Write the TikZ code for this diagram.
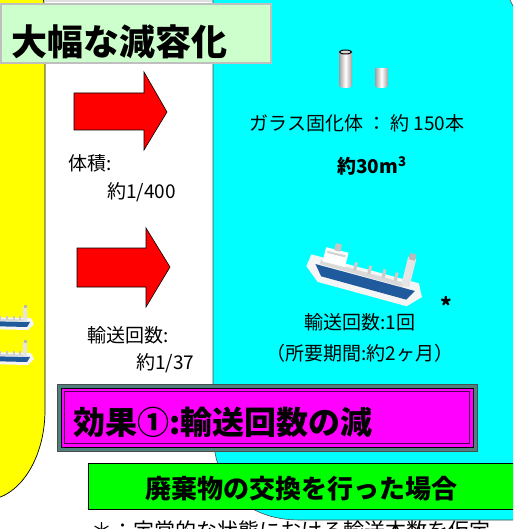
\documentclass[tikz,border=0pt]{standalone}
\usepackage{fontspec}
\newfontfamily\jp{Noto Sans CJK JP}

\definecolor{paleGreen}{HTML}{CCFFCC}
\definecolor{shipBlue}{HTML}{1E5A9C}
\definecolor{frameTeal}{HTML}{4F7F7F}
\definecolor{pureYellow}{HTML}{FFFF00}
\definecolor{pureCyan}{HTML}{00FFFF}
\definecolor{pureMagenta}{HTML}{FF00FF}
\definecolor{pureGreen}{HTML}{00FF00}
\definecolor{pureRed}{HTML}{FF0000}

\tikzset{
    txt/.style={inner sep=0pt, font={\jp\fontsize{19}{22}\selectfont}},
    bigtxt/.style={inner sep=0pt, font={\jp\bfseries\fontsize{#1}{#1}\selectfont}},
    arrowbox/.style={fill=pureRed, draw=black, line width=0.6},
    cyl/.style={left color=gray!75, right color=gray!75, middle color=white},
    ship/.pic={
        % spray round the hull
        \fill[white!92!gray] (-6,-6) -- (100,-4) -- (106,8) -- (94,20) -- (6,18) -- (-8,6) -- cycle;
        \fill[shipBlue] (0,2) -- (98,4) -- (92,14) -- (8,12) -- cycle;
        \fill[gray!30] (4,-3) -- (86,-1) -- (86,3) -- (4,1) -- cycle;
        % superstructure and cranes
        \fill[white] (6,-16) rectangle (28,-2);
        \fill[gray!35] (8,-13) rectangle (26,-11);
        \fill[gray!45] (14,-22) rectangle (20,-15);
        \foreach \cx in {36,50,64,76}
            \fill[gray!40] (\cx,-9) rectangle (\cx+3,-1);
        % bridge tower
        \fill[gray!20] (84,-26) rectangle (92,2);
        \fill[gray!55] (85,-30) rectangle (91,-24);
    }
}

\begin{document}
\begin{tikzpicture}[x=1pt,y=-1pt]

    \useasboundingbox (0,0) rectangle (513,529);
    \clip (0,0) rectangle (513,529);

    % background regions
    \fill[gray!25] (28,0) rectangle (218,2);
    \filldraw[fill=pureYellow, draw=black, line width=0.7] (-20,-40) -- (5,-40) .. controls (30,-40) and (45,-20) .. (45,20) -- (45,410) .. controls (45,460) and (18,500) .. (-15,500) -- cycle;
    \filldraw[fill=pureCyan, draw=gray!60!black, line width=0.6] (213,-20) -- (490,-20) .. controls (500,-15) and (506,-8) .. (510,0) .. controls (512,4) and (514,8) .. (520,20) -- (520,520) -- (300,520) .. controls (240,520) and (213,480) .. (213,430) -- cycle;

    % title
    \draw[fill=paleGreen, draw=frameTeal!70!black, double=gray!50, double distance=1.2pt, line width=0.8] (1,4) rectangle (271,63);
    \node[bigtxt=36, anchor=west] (title) at (11,42) {大幅な減容化};

    % arrows
    \draw[arrowbox] (74,93) -- (144,93) -- (144,72) -- (167,112) -- (144,150) -- (144,130) -- (74,130) -- cycle;
    \draw[arrowbox] (77,248) -- (146,248) -- (146,228) -- (170,267) -- (146,307) -- (146,287) -- (77,287) -- cycle;

    \node[txt, anchor=west] (volLabel) at (68,163) {体積:};
    \node[txt, anchor=west] (volRatio) at (107,192) {約1/400};
    \node[txt, anchor=west] (tripLabel) at (87,335) {輸送回数:};
    \node[txt, anchor=west] (tripRatio) at (136,363) {約1/37};

    % glass canisters
    \shade[cyl] (339,52) -- (339,86) arc[start angle=180, end angle=0, x radius=6.5, y radius=2] -- (352,52) -- cycle;
    \filldraw[fill=gray!30, draw=black, line width=1] (345.5,52) ellipse [x radius=6, y radius=2];
    \shade[cyl] (375,68) -- (375,86) arc[start angle=180, end angle=0, x radius=6.5, y radius=2] -- (388,68) -- cycle;

    \node[txt] (glassCount) at (357,123) {ガラス固化体 ： 約 150本};
    \node[bigtxt=19] (glassVol) at (372,166) {約30m\textsuperscript{3}};

    % ships
    \pic[rotate=-14, scale=1.05] at (316,262) {ship};
    \pic[scale=0.5] at (-19,320) {ship};
    \pic[scale=0.5] at (-19,355) {ship};

    \node[bigtxt=22] (star) at (446,306) {*};
    \node[txt] (tripOne) at (360,322) {輸送回数:1回};
    \node[txt] (period) at (360,353) {（所要期間:約2ヶ月）};

    % effect box
    \filldraw[fill=frameTeal, draw=gray!60!black] (57,384) rectangle (477,451);
    \filldraw[fill=pureMagenta, draw=black, line width=0.8] (61,388) rectangle (473,447);
    \draw[violet!60!black, line width=1.2] (64.5,391.5) rectangle (469.5,443.5);
    \node[bigtxt=32, anchor=west] (effect) at (73,422) {効果①:輸送回数の減};

    % case box
    \filldraw[fill=pureGreen, draw=black, line width=0.7] (88,463) rectangle (516,509);
    \node[bigtxt=26] (exchange) at (301,489) {廃棄物の交換を行った場合};

    \node[txt, font={\jp\fontsize{21}{24}\selectfont}, anchor=west] (note) at (91,531) {＊：定常的な状態における輸送本数を仮定};

\end{tikzpicture}
\end{document}
